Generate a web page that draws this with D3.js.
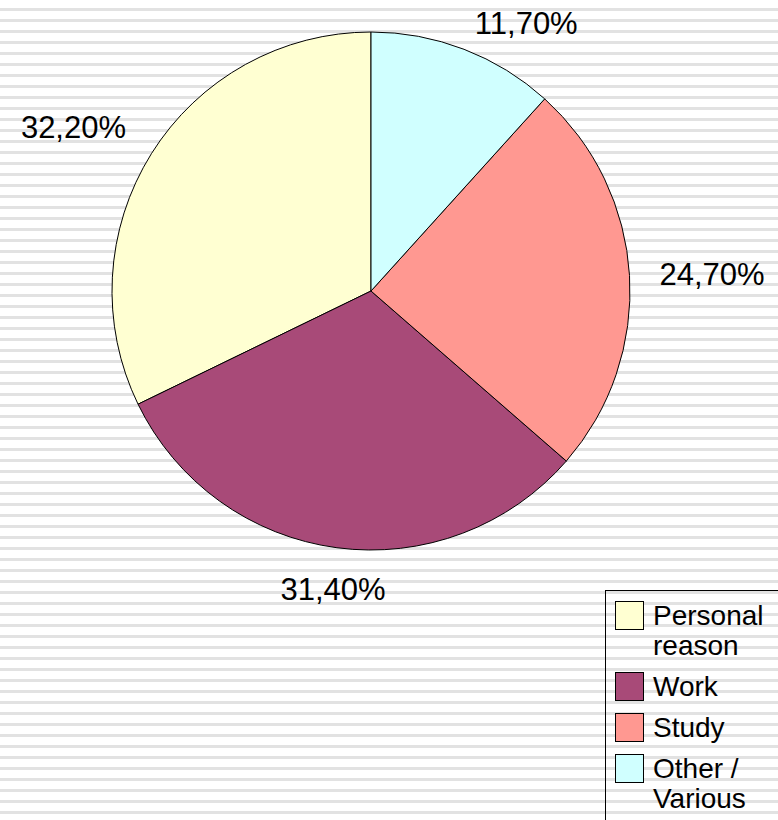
<!DOCTYPE html>
<html>
<head>
<meta charset="utf-8">
<script src="https://cdn.jsdelivr.net/npm/d3@7/dist/d3.min.js"></script>
<style>
    body { margin: 0; background: #fff; }
    svg { display: block; font-family: "Liberation Sans", Arial, sans-serif; }
</style>
</head>
<body>
<svg id="chart" width="778" height="820"></svg>
<script>
// Data
var categories = ['Personal reason', 'Work', 'Study', 'Other / Various'];
var legendLines = [['Personal', 'reason'], ['Work'], ['Study'], ['Other /', 'Various']];
var shares = [32.2, 31.4, 24.7, 11.7];
var colors = ['#ffffd2', '#a84a78', '#ff9891', '#d0ffff'];

var width = 778, height = 820;
var cx = 371, cy = 291, radius = 259;

var svg = d3.select('#chart');

// Striped background
svg.append('g')
    .attr('class', 'stripes')
    .selectAll('rect')
    .data(d3.range(8, height, 11))
    .enter().append('rect')
    .attr('x', 0)
    .attr('y', d => d)
    .attr('width', width)
    .attr('height', 3)
    .attr('fill', '#e2e2e2')
;

var slices = categories.map((c, i) => ({ name: c, value: shares[i], color: colors[i] }));

// counter-clockwise from 12 o'clock, in legend order
var pie = d3.pie()
    .sort(null)
    .value(d => d.value)
    .startAngle(0)
    .endAngle(-2 * Math.PI)
;

var arc = d3.arc().innerRadius(0).outerRadius(radius);

var pieG = svg.append('g')
    .attr('transform', `translate(${ cx }, ${ cy })`);

var arcs = pie(slices);

pieG.selectAll('path')
    .data(arcs)
    .enter().append('path')
    .attr('d', arc)
    .attr('fill', d => d.data.color)
    .attr('stroke', '#000')
    .attr('stroke-width', 1)
    .attr('stroke-linejoin', 'round')
;

// Labels just outside the pie, anchored by the side they sit on
var labelRadius = radius + 30;
var fontSize = 31;
var fmt = v => v.toFixed(2).replace('.', ',') + '%';

pieG.selectAll('text')
    .data(arcs)
    .enter().append('text')
    .attr('font-size', fontSize)
    .attr('fill', '#000')
    .each(function (d) {
        var a = (d.startAngle + d.endAngle) / 2;
        var sx = Math.sin(a), sy = -Math.cos(a);
        var x = sx * labelRadius, y = sy * labelRadius;
        var anchor = sx > 0.3 ? 'start' : (sx < -0.3 ? 'end' : 'middle');
        var capH = fontSize * 0.72;
        var baseline;
        if (sy < -0.3) baseline = y;                 // label above the point
        else if (sy > 0.3) baseline = y + capH;      // label below the point
        else baseline = y + capH / 2;
        // keep the label inside the picture
        baseline = Math.max(baseline, 12 - cy + capH);
        d3.select(this)
            .attr('x', x)
            .attr('y', baseline)
            .attr('text-anchor', anchor)
            .text(fmt(d.data.value));
    })
;

// Legend
var legend = svg.append('g').attr('class', 'legend');

legend.append('rect')
    .attr('x', 605.5)
    .attr('y', 590.5)
    .attr('width', 200)
    .attr('height', 260)
    .attr('fill', 'none')
    .attr('stroke', '#000')
    .attr('stroke-width', 1)
;

var lineH = 30, rowGap = 41, firstBase = 625;
var bases = [];
legendLines.reduce((b, lines) => {
    bases.push(b);
    return b + (lines.length - 1) * lineH + rowGap;
}, firstBase);

var items = legend.selectAll('.legend__item')
    .data(slices)
    .enter().append('g')
    .attr('class', 'legend__item')
;

items.append('rect')
    .attr('x', 615.5)
    .attr('y', (d, i) => bases[i] - 23.5)
    .attr('width', 28)
    .attr('height', 28)
    .attr('fill', d => d.color)
    .attr('stroke', '#000')
    .attr('stroke-width', 1)
;

items.append('text')
    .attr('font-size', 28)
    .attr('fill', '#000')
    .each(function (d, i) {
        var t = d3.select(this);
        legendLines[i].forEach((line, j) => {
            t.append('tspan')
                .attr('x', 653)
                .attr('y', bases[i] + j * lineH)
                .text(line);
        });
    })
;
</script>
</body>
</html>
